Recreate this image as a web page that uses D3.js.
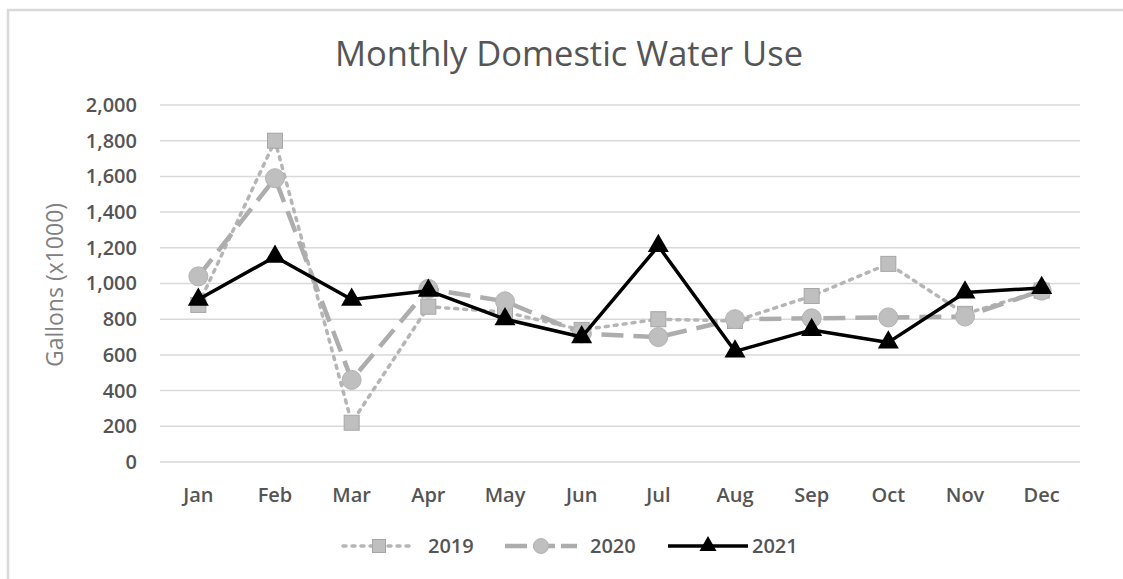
<!DOCTYPE html>
<html>
<head>
<meta charset="utf-8">
<script src="https://d3js.org/d3.v7.min.js"></script>
<style>
  body { margin: 0; background: #fff; overflow: hidden; }
  text { font-family: "Open Sans", "Noto Sans", sans-serif; }
</style>
</head>
<body>
<div id="chart"></div>
<script>
// data
var months = ["Jan","Feb","Mar","Apr","May","Jun","Jul","Aug","Sep","Oct","Nov","Dec"];
var years = ["2019","2020","2021"];
var use2019 = [880, 1800, 220, 870, 840, 740, 800, 790, 930, 1110, 830, 960];
var use2020 = [1040, 1590, 460, 970, 900, 720, 700, 800, 805, 810, 815, 960];
var use2021 = [910, 1150, 910, 960, 800, 700, 1210, 620, 740, 670, 950, 975];
var yTicks = [0, 200, 400, 600, 800, 1000, 1200, 1400, 1600, 1800, 2000];

var W = 1123, H = 579;
var margin = {top: 105, right: 43, bottom: 117, left: 160};
var width = W - margin.left - margin.right,
    height = H - margin.top - margin.bottom;

var svg = d3.select("#chart").append("svg")
    .attr("width", W).attr("height", H);

// chart frame (only top and left edges fall inside the picture)
svg.append("rect")
    .attr("x", 8).attr("y", 10)
    .attr("width", 1140).attr("height", 600)
    .attr("fill", "none").attr("stroke", "#d9d9d9").attr("stroke-width", 2.5);

var g = svg.append("g")
    .attr("transform", "translate(" + margin.left + "," + margin.top + ")");

var x = d3.scaleBand().domain(months).range([0, width]);
var y = d3.scaleLinear().domain([0, 2000]).range([height, 0]);
var cx = function(m) { return x(m) + x.bandwidth() / 2; };

// gridlines
g.selectAll(".grid").data(yTicks).enter().append("line")
    .attr("x1", 0).attr("x2", width)
    .attr("y1", function(d) { return y(d); })
    .attr("y2", function(d) { return y(d); })
    .attr("stroke", "#d9d9d9").attr("stroke-width", 1.5);

// y axis labels
var yAxis = g.append("g").call(d3.axisLeft(y).tickValues(yTicks).tickSize(0).tickPadding(23)
    .tickFormat(d3.format(",")));
yAxis.select(".domain").remove();
yAxis.selectAll("text").attr("fill", "#555")
    .style("font-size", "20px").style("font-weight", "600")
    .style("font-family", "'Open Sans', sans-serif");

// x axis labels
var xAxis = g.append("g").attr("transform", "translate(0," + height + ")")
    .call(d3.axisBottom(x).tickSize(0).tickPadding(26));
xAxis.select(".domain").remove();
xAxis.selectAll("text").attr("fill", "#555")
    .style("font-size", "20px").style("font-weight", "600")
    .style("font-family", "'Open Sans', sans-serif");

// title
svg.append("text")
    .attr("x", 569).attr("y", 66)
    .attr("text-anchor", "middle")
    .attr("fill", "#555")
    .style("font-size", "34.5px")
    .text("Monthly Domestic Water Use");

// y axis title
svg.append("text")
    .attr("transform", "translate(63," + 285 + ") rotate(-90)")
    .attr("text-anchor", "middle")
    .attr("fill", "#808080")
    .style("font-size", "23px")
    .text("Gallons  (x1000)");

var series = [
  {name: years[0], values: use2019, stroke: "#b5b5b5", width: 3.5, dash: "3,6", cap: "round", marker: "square"},
  {name: years[1], values: use2020, stroke: "#adadad", width: 4.5, dash: "22,10", cap: "butt", marker: "circle"},
  {name: years[2], values: use2021, stroke: "#000000", width: 3.5, dash: null, cap: "butt", marker: "triangle"}
];

var line = d3.line()
    .x(function(d, i) { return cx(months[i]); })
    .y(function(d) { return y(d); });

function marker(sel, type, size) {
  if (type === "square") {
    sel.append("rect").attr("x", -size / 2).attr("y", -size / 2)
      .attr("width", size).attr("height", size)
      .attr("fill", "#bfbfbf").attr("stroke", "#a6a6a6").attr("stroke-width", 1);
  } else if (type === "circle") {
    sel.append("circle").attr("r", size / 2)
      .attr("fill", "#bfbfbf").attr("stroke", "#b3b3b3").attr("stroke-width", 1);
  } else {
    sel.append("path")
      .attr("d", d3.symbol().type(d3.symbolTriangle).size(size * size * 0.75))
      .attr("fill", "#000");
  }
}

series.forEach(function(s) {
  g.append("path")
    .datum(s.values)
    .attr("d", line)
    .attr("fill", "none")
    .attr("stroke", s.stroke)
    .attr("stroke-width", s.width)
    .attr("stroke-linecap", s.cap)
    .attr("stroke-linejoin", "round")
    .attr("stroke-dasharray", s.dash);
  g.selectAll(".m" + s.name).data(s.values).enter().append("g")
    .attr("transform", function(d, i) { return "translate(" + cx(months[i]) + "," + y(d) + ")"; })
    .each(function() {
      marker(d3.select(this), s.marker, s.marker === "circle" ? 19 : (s.marker === "square" ? 15 : 16));
    });
});

// legend
var legendX = [343, 505, 668];
var legendLen = [72, 72, 80];
series.forEach(function(s, i) {
  var lg = svg.append("g").attr("transform", "translate(" + legendX[i] + ",546)");
  lg.append("line").attr("x1", 0).attr("x2", legendLen[i])
    .attr("stroke", s.stroke).attr("stroke-width", s.width)
    .attr("stroke-dasharray", s.dash === "22,10" ? "22,6" : s.dash)
    .attr("stroke-linecap", s.cap);
  var mk = lg.append("g").attr("transform", "translate(" + (legendLen[i] / 2) + ",0)");
  marker(mk, s.marker, s.marker === "circle" ? 15 : 13);
  lg.append("text").attr("x", i === 2 ? 84 : 85).attr("y", 7)
    .attr("fill", "#555").style("font-size", "20px").style("font-weight", "600")
    .text(s.name);
});
</script>
</body>
</html>
